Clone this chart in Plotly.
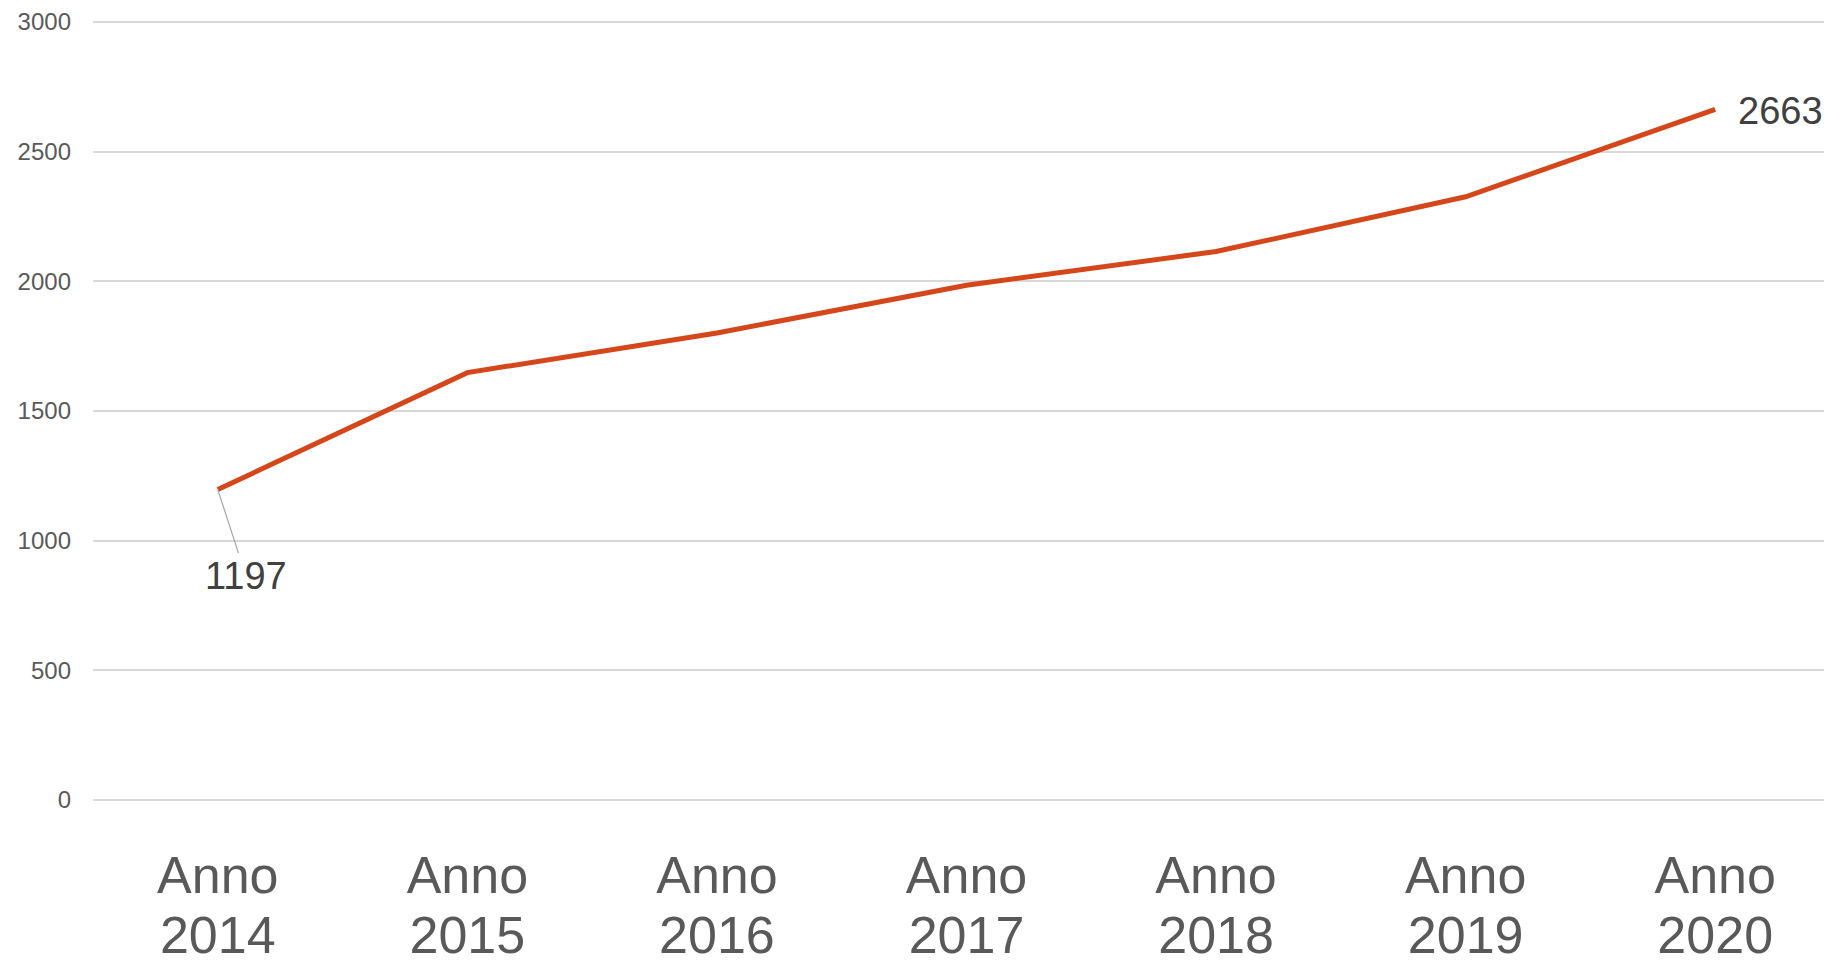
import plotly.graph_objects as go

years = ["2014", "2015", "2016", "2017", "2018", "2019", "2020"]
prefix = "Anno"
values = [1197, 1648, 1801, 1985, 2115, 2326, 2663]
y_ticks = [0, 500, 1000, 1500, 2000, 2500, 3000]

LINE = "#D5471A"
TEXT = "#595959"
FONT = "Liberation Sans, Arial, sans-serif"
XFONT = 52

fig = go.Figure()
fig.add_trace(go.Scatter(
    x=years, y=values, mode="lines",
    line=dict(color=LINE, width=5),
    hoverinfo="skip", showlegend=False,
))
# invisible companion trace so the second (year) label axis is drawn
fig.add_trace(go.Scatter(
    x=years, y=values, mode="none", xaxis="x2",
    hoverinfo="skip", showlegend=False,
))

first_i, last_i = 0, len(years) - 1  # category indices

# first label with leader line
fig.add_annotation(
    x=first_i, y=values[first_i], text=str(values[first_i]),
    showarrow=True, arrowhead=0, arrowwidth=1.2, arrowcolor="#A6A6A6",
    ax=28, ay=86, standoff=0,
    font=dict(family=FONT, size=38, color="#404040"),
)
# last label
fig.add_annotation(
    x=last_i, y=values[last_i], text=str(values[last_i]),
    showarrow=False, xanchor="left", yanchor="middle", xshift=21, yshift=-2,
    font=dict(family=FONT, size=38, color="#404040"),
)

fig.update_layout(
    width=1832, height=962,
    margin=dict(l=85, r=0, t=13, b=169),
    paper_bgcolor="white", plot_bgcolor="white",
    font=dict(family=FONT, color=TEXT),
    xaxis=dict(
        type="category", range=[-0.5, len(years) - 0.5],
        tickmode="array", tickvals=years, ticktext=[prefix] * len(years),
        showgrid=False, showline=False, zeroline=False, ticks="",
        tickfont=dict(family=FONT, size=XFONT, color=TEXT),
        ticklabelstandoff=39,
    ),
    xaxis2=dict(
        type="category", overlaying="x", matches="x", anchor="y", side="bottom",
        tickmode="array", tickvals=years, ticktext=years,
        showgrid=False, showline=False, zeroline=False, ticks="",
        tickfont=dict(family=FONT, size=XFONT, color=TEXT),
        ticklabelstandoff=99,
    ),
    yaxis=dict(
        range=[-4, 3004], tickvals=y_ticks,
        showgrid=True, gridcolor="#D9D9D9", gridwidth=1.5,
        zeroline=True, zerolinecolor="#D9D9D9", zerolinewidth=1.5,
        showline=False, ticks="",
        tickfont=dict(family=FONT, size=24, color=TEXT),
        ticklabelstandoff=21,
    ),
)

fig.write_html("out.html")
